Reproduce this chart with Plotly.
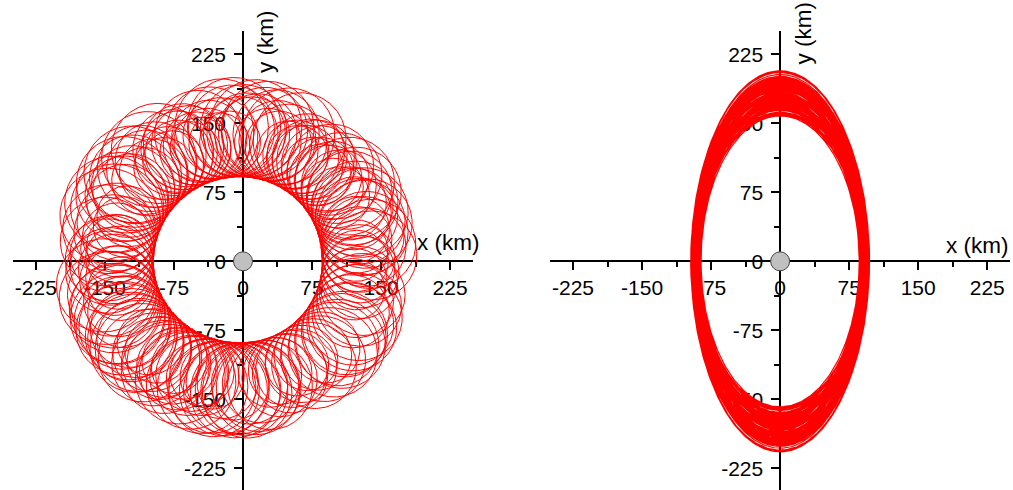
import numpy as np
import plotly.graph_objects as go

# Semi-axes of each revolution (km): x-axis semi-axis and y-axis semi-axis
semi_axis_x = [86.0, 86.6, 87.3, 88.0, 88.8, 89.6, 90.3, 91.0, 91.6, 92.2, 93.0, 93.8,
               94.6, 95.3, 96.0, 96.6, 97.0, 97.2, 97.0, 96.1, 94.9, 93.5, 92.1, 90.7,
               89.5, 88.6, 88.0, 87.6, 87.2, 86.9, 86.6, 86.4, 86.2, 86.0, 85.9, 86.2,
               86.9, 87.6, 88.4, 89.1, 89.9, 90.6, 91.2, 91.9, 92.5, 93.3, 94.1, 94.9,
               95.6, 96.2, 96.8, 97.1, 97.2, 96.7, 95.7, 94.3, 92.9, 91.6, 90.2, 89.2,
               88.3, 87.9, 87.5, 87.1, 86.8, 86.5, 86.3, 86.1, 86.0, 85.9, 86.5, 87.1,
               87.9, 88.6, 89.4, 90.2, 90.9, 91.5, 92.0, 92.8, 93.6, 94.4, 95.1, 95.9,
               96.5, 96.9, 97.2, 97.1, 96.3, 95.2, 93.8, 92.4, 91.0, 89.7, 88.8, 88.1]
semi_axis_y = [189, 183, 172, 159, 166, 179,
               197, 191, 179, 164, 172, 187,
               203, 197, 185, 168, 177, 193,
               205, 198, 186, 170, 178, 194,
               194, 188, 177, 162, 170, 184,
               188, 182, 171, 158, 165, 178,
               190, 184, 173, 160, 167, 180,
               198, 192, 180, 165, 173, 188,
               206, 199, 187, 171, 179, 195,
               201, 195, 183, 167, 175, 191,
               192, 186, 175, 161, 168, 182,
               187, 181, 170, 158, 164, 177,
               193, 187, 176, 162, 169, 183,
               200, 194, 182, 166, 174, 190,
               207, 200, 188, 172, 180, 196,
               199, 193, 181, 165, 173, 189]
# Lag of the rotating frame behind the orbit, degrees per revolution
frame_lag_deg = 10.4

tick_values = [-225, -150, -75, 0, 75, 150, 225]
tick_text = ["-225", "-150", "-75", "0", "75", "150", "225"]
minor_tick_values = [-187.5, -112.5, -37.5, 37.5, 112.5, 187.5]

# ---- trajectories -------------------------------------------------------
steps = 300
xs_in, ys_in, xs_rot, ys_rot = [], [], [], []
omega = 1.0 - frame_lag_deg / 360.0
for k, (a, b) in enumerate(zip(semi_axis_x, semi_axis_y)):
    t = 2 * np.pi * k + np.linspace(0, 2 * np.pi, steps + 1)
    x = a * np.cos(t)
    y = b * np.sin(t)
    xs_in.append(x)
    ys_in.append(y)
    ang = -omega * t
    xs_rot.append(x * np.cos(ang) - y * np.sin(ang))
    ys_rot.append(x * np.sin(ang) + y * np.cos(ang))

x_in, y_in = np.concatenate(xs_in), np.concatenate(ys_in)
x_rot, y_rot = np.concatenate(xs_rot), np.concatenate(ys_rot)

W, H = 1013, 490
FONT = "Liberation Sans, Arial, sans-serif"
RED = "#ff0000"

fig = go.Figure()
fig.add_trace(go.Scatter(x=x_rot, y=y_rot, mode="lines", xaxis="x", yaxis="y",
                         line=dict(color=RED, width=1.0), hoverinfo="skip"))
fig.add_trace(go.Scatter(x=x_in, y=y_in, mode="lines", xaxis="x2", yaxis="y2",
                         line=dict(color=RED, width=1.1), hoverinfo="skip"))
for xa, ya in (("x", "y"), ("x2", "y2")):
    fig.add_trace(go.Scatter(x=[0], y=[0], mode="markers", xaxis=xa, yaxis=ya,
                             marker=dict(size=19, color="#c0c0c0",
                                         line=dict(color="#444444", width=1)),
                             hoverinfo="skip"))

# plot geometry (pixels)
scale = 0.9205          # px per km
left_x0, right_x0 = 12.85, 550.0
span = 500 * scale
top_px = 31.2
zero_y_px = top_px + 250 * scale
y_domain_top = 1 - top_px / H
y_low = 250 - (H - top_px) / scale
x_axis_pos = (H - zero_y_px) / H


def x_axis(x0):
    return dict(domain=[x0 / W, (x0 + span) / W], range=[-250, 250],
                anchor="free", position=x_axis_pos,
                showline=True, linecolor="black", linewidth=1.5,
                ticks="outside", ticklen=8, tickwidth=1.5, tickcolor="black",
                tickmode="array", tickvals=tick_values, ticktext=tick_text,
                minor=dict(ticks="outside", ticklen=5, tickwidth=1.5, tickcolor="black",
                           tickmode="array", tickvals=minor_tick_values),
                showgrid=False, zeroline=False, layer="below traces",
                tickfont=dict(family=FONT, size=21, color="black"))


def y_axis(x0):
    return dict(domain=[0, y_domain_top], range=[y_low, 250],
                anchor="free", position=(x0 + 250 * scale) / W,
                showline=True, linecolor="black", linewidth=1.5,
                ticks="outside", ticklen=8, tickwidth=1.5, tickcolor="black",
                tickmode="array", tickvals=tick_values, ticktext=tick_text,
                minor=dict(ticks="outside", ticklen=5, tickwidth=1.5, tickcolor="black",
                           tickmode="array", tickvals=minor_tick_values),
                ticklabelstandoff=4,
                showgrid=False, zeroline=False, layer="below traces",
                tickfont=dict(family=FONT, size=21, color="black"))


fig.update_layout(
    width=W, height=H, margin=dict(l=0, r=0, t=0, b=0),
    paper_bgcolor="white", plot_bgcolor="white", showlegend=False,
    xaxis=x_axis(left_x0), yaxis=y_axis(left_x0),
    xaxis2=x_axis(right_x0), yaxis2=y_axis(right_x0),
)

title_font = dict(family=FONT, size=22.5, color="black")
for cx, cy in ((448.3, 243.0), (976.7, 245.0)):
    fig.add_annotation(text="x (km)", xref="paper", yref="paper",
                       x=cx / W, y=1 - cy / H, xanchor="center", yanchor="middle",
                       showarrow=False, font=title_font)
for cx, cy in ((265.3, 41.7), (803.3, 33.3)):
    fig.add_annotation(text="y (km)", xref="paper", yref="paper", textangle=-90,
                       x=cx / W, y=1 - cy / H, xanchor="center", yanchor="middle",
                       showarrow=False, font=title_font)

fig.write_html("out.html")
